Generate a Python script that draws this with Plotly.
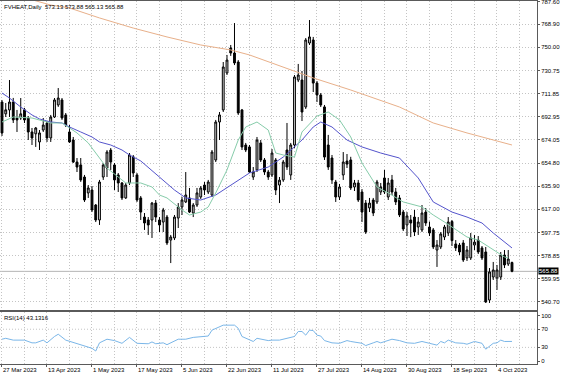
import plotly.graph_objects as go

# ---------------- data ----------------
open_ = [705.0, 695.3, 698.5, 705.0, 691.9, 691.9, 698.6, 691.9, 680.4, 678.9,
         672.2, 682.0, 687.8, 675.5, 692.7, 702.6, 706.7, 694.4, 680.4, 673.8,
         655.7, 653.3, 643.4, 630.3, 632.7, 620.4, 608.1, 643.4, 650.8, 665.5,
         653.3, 645.1, 638.5, 626.2, 638.5, 660.0, 645.1, 626.2, 610.5, 608.1,
         608.1, 622.0, 608.1, 606.4, 610.5, 591.6, 593.3, 609.7, 618.8, 622.9,
         626.2, 613.8, 620.4, 627.0, 636.8, 631.1, 628.6, 657.4, 688.6, 698.5,
         728.9, 749.4, 745.3, 737.9, 698.5, 669.7, 668.1, 643.4, 649.2, 671.4,
         657.4, 647.5, 645.1, 657.4, 636.8, 641.0, 665.6, 645.1, 669.7, 723.1,
         723.1, 700.9, 753.5, 756.0, 720.6, 710.8, 701.0, 669.7, 659.0, 639.3,
         627.0, 645.1, 656.5, 657.4, 635.2, 638.5, 631.1, 622.0, 618.0, 624.5,
         622.9, 631.1, 642.6, 627.0, 641.0, 631.1, 626.2, 614.6, 604.0, 608.1,
         610.5, 602.3, 599.9, 614.6, 602.3, 599.9, 583.4, 585.9, 594.1, 597.4,
         606.8, 588.4, 587.5, 589.2, 576.9, 576.9, 587.5, 591.6, 585.1, 581.8,
         542.3, 561.2, 560.4, 561.2, 579.3, 571.9, 573.13]
high = [706.7, 704.2, 723.1, 708.4, 698.5, 708.3, 700.2, 693.5, 683.7, 684.5,
        682.0, 691.9, 689.4, 694.4, 708.3, 716.5, 708.3, 696.0, 686.1, 676.3,
        659.0, 659.0, 645.1, 636.8, 636.0, 621.2, 641.0, 654.9, 665.5, 667.2,
        654.9, 646.7, 639.3, 638.5, 663.1, 661.5, 646.7, 627.8, 613.8, 610.5,
        622.9, 624.5, 610.5, 618.0, 612.2, 595.8, 612.2, 622.0, 627.0, 647.5,
        634.4, 622.0, 634.4, 636.0, 639.3, 641.0, 665.6, 690.3, 696.8, 737.9,
        743.7, 751.9, 769.9, 739.5, 699.3, 671.4, 669.7, 651.6, 676.3, 673.8,
        659.0, 649.2, 666.4, 659.0, 643.4, 657.4, 687.8, 671.4, 727.2, 736.3,
        730.5, 757.6, 772.4, 758.5, 722.3, 712.4, 702.6, 678.0, 661.5, 641.0,
        637.7, 663.9, 662.3, 660.0, 641.0, 641.0, 633.5, 624.5, 626.2, 626.2,
        641.0, 638.5, 649.2, 642.6, 645.1, 634.4, 628.6, 616.3, 614.6, 612.2,
        616.3, 610.5, 620.4, 617.9, 606.8, 601.5, 591.6, 598.2, 604.0, 610.5,
        608.1, 591.6, 589.2, 591.6, 586.7, 597.4, 595.8, 594.9, 586.7, 585.9,
        568.6, 573.6, 571.1, 581.8, 583.4, 583.4, 573.88]
low = [677.1, 692.7, 692.7, 687.8, 680.4, 690.3, 687.8, 673.8, 669.7, 668.1,
       665.6, 680.4, 672.2, 672.2, 691.9, 701.0, 690.3, 684.5, 671.4, 654.9,
       647.5, 639.4, 622.9, 626.2, 614.6, 606.4, 604.0, 641.0, 643.4, 649.2,
       632.7, 631.1, 624.5, 625.4, 636.8, 643.4, 622.9, 608.1, 599.9, 595.8,
       593.3, 606.4, 598.2, 598.2, 587.5, 572.7, 591.6, 601.5, 612.2, 622.0,
       613.8, 610.5, 618.8, 625.4, 628.6, 629.4, 627.0, 655.7, 673.8, 696.8,
       727.2, 742.9, 735.4, 694.4, 665.6, 663.9, 646.7, 641.0, 647.5, 655.7,
       645.1, 641.0, 643.4, 628.6, 622.0, 639.4, 649.2, 641.0, 667.2, 721.4,
       689.4, 699.3, 751.9, 713.2, 705.0, 700.9, 657.4, 649.2, 637.7, 622.9,
       624.5, 641.0, 650.8, 632.7, 631.9, 622.9, 606.4, 596.6, 614.6, 611.3,
       621.2, 628.6, 629.4, 624.5, 628.6, 620.4, 610.5, 599.0, 594.9, 594.0,
       594.9, 595.8, 598.2, 603.2, 594.9, 584.2, 569.5, 584.2, 591.6, 594.9,
       586.7, 582.6, 579.3, 573.6, 574.4, 575.2, 583.4, 580.1, 575.2, 539.9,
       539.9, 558.8, 550.6, 558.8, 568.6, 570.3, 565.13]
close = [679.6, 698.6, 705.0, 690.3, 690.3, 695.3, 690.3, 680.4, 675.5, 683.7,
         679.6, 686.1, 675.5, 692.7, 706.7, 708.3, 691.9, 686.1, 672.2, 655.7,
         651.6, 641.0, 624.5, 634.4, 616.3, 608.1, 639.3, 653.3, 663.9, 655.7,
         641.0, 638.5, 626.2, 636.8, 661.5, 646.7, 624.5, 614.6, 605.6, 604.0,
         622.0, 610.5, 604.0, 616.3, 589.2, 594.1, 610.5, 618.8, 624.5, 628.6,
         614.6, 620.4, 630.3, 634.4, 632.7, 639.3, 663.9, 688.6, 694.4, 733.8,
         739.5, 745.3, 737.1, 696.0, 668.1, 665.6, 647.5, 647.5, 673.8, 657.4,
         647.5, 643.4, 663.1, 632.7, 640.8, 655.7, 651.6, 669.7, 725.6, 727.2,
         696.8, 756.0, 758.5, 720.6, 710.8, 702.6, 659.8, 651.6, 641.0, 627.0,
         635.2, 655.7, 654.0, 634.4, 638.5, 624.5, 614.6, 598.2, 622.0, 613.8,
         639.3, 635.2, 631.1, 638.5, 631.1, 622.9, 612.2, 600.7, 611.4, 605.6,
         598.2, 606.4, 613.8, 605.6, 597.4, 585.9, 587.5, 596.6, 602.3, 606.4,
         591.2, 585.1, 581.8, 575.2, 583.4, 593.3, 589.9, 581.8, 576.9, 540.7,
         565.4, 567.0, 567.0, 579.3, 571.1, 576.0, 565.88]
bars = list(range(len(close)))

date_labels = ["27 Mar 2023", "13 Apr 2023", "1 May 2023", "17 May 2023",
               "5 Jun 2023", "22 Jun 2023", "11 Jul 2023", "27 Jul 2023",
               "14 Aug 2023", "30 Aug 2023", "18 Sep 2023", "4 Oct 2023"]
date_label_bars = [0, 12, 24, 36, 48, 60, 72, 84, 96, 108, 120, 132]

price_ticks = [787.60, 768.90, 750.00, 730.75, 711.85, 692.95, 674.05,
               654.80, 635.90, 617.00, 597.75, 578.85, 559.95, 540.70]

# moving averages
ma_fast_bars = [0, 3, 8, 10, 13, 16, 20, 23, 25, 28, 31, 33, 37, 40, 42, 44, 48,
                50, 53, 55, 57, 60, 63, 65, 68, 71, 73, 75, 78, 80, 84, 87, 90,
                93, 96, 100, 103, 107, 112, 115, 118, 120, 124, 127, 131, 134, 135]
ma_fast_vals = [688.6, 692.7, 691.9, 690.3, 687.8, 687.8, 679.6, 671.4, 663.1,
                650.8, 643.4, 638.5, 638.5, 635.2, 628.6, 626.2, 616.3, 612.2,
                614.6, 618.8, 630.3, 649.2, 673.8, 684.5, 688.6, 682.0, 663.1,
                661.5, 659.8, 680.4, 693.5, 696.8, 690.3, 676.3, 654.9, 635.2,
                630.3, 622.9, 618.8, 612.2, 606.4, 602.3, 594.1, 591.6, 583.4,
                577.7, 576.9]

ma_slow_bars = [0, 2, 5, 8, 10, 13, 16, 18, 21, 24, 26, 29, 32, 34, 37, 42, 46,
                49, 53, 57, 62, 66, 71, 75, 80, 83, 85, 88, 92, 96, 101, 106,
                111, 115, 120, 124, 128, 131, 136]
ma_slow_vals = [712.4, 708.3, 700.9, 694.4, 691.1, 688.6, 687.8, 684.5, 680.4,
                676.3, 672.2, 669.7, 665.6, 661.5, 656.6, 643.4, 632.7, 626.2,
                624.5, 628.6, 638.5, 646.7, 651.6, 659.8, 673.8, 684.5, 688.6,
                684.5, 673.8, 668.1, 663.1, 659.0, 642.6, 622.9, 614.6, 610.5,
                605.6, 597.4, 585.1]

ma_long_bars = [7, 13, 18, 26, 35, 44, 53, 61, 66, 75, 83, 93, 102, 106, 115, 124, 136]
ma_long_vals = [789.9, 784.7, 782.3, 774.1, 765.8, 758.5, 751.9, 747.8, 743.7,
                733.8, 724.8, 714.9, 705.0, 700.9, 687.8, 679.6, 669.7]

rsi_bars = [0, 1, 3, 6, 8, 9, 11, 12, 14, 15, 17, 20, 23, 24, 25, 26, 28, 30,
            32, 34, 36, 39, 40, 41, 43, 44, 47, 49, 51, 55, 56, 59, 62, 63, 64,
            67, 68, 71, 72, 74, 76, 78, 79, 80, 81, 82, 83, 84, 85, 86, 88, 90,
            92, 93, 96, 97, 99, 100, 101, 103, 104, 106, 108, 110, 112, 114,
            116, 117, 118, 119, 121, 123, 124, 126, 128, 129, 131, 132, 133,
            134, 136]
rsi_vals = [48, 50, 46, 46, 40, 40, 46, 40, 54, 59, 46, 39, 32, 28, 22, 40, 48,
            45, 39, 52, 39, 38, 42, 38, 40, 36, 48, 48, 52, 55, 68, 79, 79, 72,
            54, 43, 50, 45, 46, 46, 50, 54, 65, 65, 57, 68, 67, 57, 55, 45, 40,
            39, 45, 43, 39, 34, 40, 43, 40, 46, 48, 45, 40, 39, 43, 39, 35, 43,
            40, 46, 40, 39, 37, 43, 39, 26, 39, 40, 46, 43, 43.1316]
rsi_ticks = [0, 30, 70, 100]
rsi_levels = [30, 70]

symbol = "FVHEAT,Daily"

# ---------------- styling ----------------
GRID = "#c4c4c4"
GDASH = "1px,2px"
AXIS = "#5a5a5a"
FONT = "Liberation Sans"
FS = 6

fig = go.Figure()
fig.add_trace(go.Candlestick(
    x=bars, open=open_, high=high, low=low, close=close,
    increasing=dict(line=dict(color="#000000", width=1), fillcolor="#d2d2d2"),
    decreasing=dict(line=dict(color="#000000", width=1), fillcolor="#000000"),
    whiskerwidth=0, hoverinfo="skip", showlegend=False, xaxis="x", yaxis="y"))
fig.add_trace(go.Scatter(x=ma_long_bars, y=ma_long_vals, mode="lines",
                         line=dict(color="#e8b08a", width=1), xaxis="x", yaxis="y"))
fig.add_trace(go.Scatter(x=ma_slow_bars, y=ma_slow_vals, mode="lines",
                         line=dict(color="#5454cc", width=1), xaxis="x", yaxis="y"))
fig.add_trace(go.Scatter(x=ma_fast_bars, y=ma_fast_vals, mode="lines",
                         line=dict(color="#86ccaa", width=1), xaxis="x", yaxis="y"))
fig.add_trace(go.Scatter(x=rsi_bars, y=rsi_vals, mode="lines",
                         line=dict(color="#7ab6e8", width=1), xaxis="x2", yaxis="y2"))

xr = [-0.53, 142.67]
common_x = dict(range=xr, showgrid=True, gridcolor=GRID, griddash=GDASH, gridwidth=1,
                minor=dict(tickmode="linear", tick0=0, dtick=6, showgrid=True,
                           gridcolor=GRID, griddash=GDASH, gridwidth=1),
                showline=True, linecolor=AXIS, linewidth=1, mirror=True,
                zeroline=False, fixedrange=True, automargin=False)

fig.update_layout(
    width=564, height=376,
    margin=dict(l=0, r=27, t=1, b=12, autoexpand=False),
    paper_bgcolor="white", plot_bgcolor="white",
    showlegend=False,
    font=dict(family=FONT, size=FS, color="#000000"),
    xaxis=dict(domain=[0, 1], anchor="y", tickvals=date_label_bars,
               showticklabels=False, ticks="", rangeslider=dict(visible=False),
               **common_x),
    xaxis2=dict(domain=[0, 1], anchor="y2", tickvals=date_label_bars,
                ticktext=date_labels, ticks="outside", ticklen=2, tickcolor=AXIS,
                ticklabelposition="outside right", ticklabeloverflow="allow",
                tickfont=dict(family=FONT, size=FS), **common_x),
    yaxis=dict(domain=[0.1488, 1], range=[534.13, 788.03], side="right",
               tickvals=price_ticks, ticktext=[f"{v:.2f}" for v in price_ticks],
               showgrid=True, gridcolor=GRID, griddash=GDASH,
               ticks="outside", ticklen=2, tickcolor=AXIS,
               ticklabeloverflow="allow",
               tickfont=dict(family=FONT, size=FS),
               showline=True, linecolor=AXIS, linewidth=1, mirror=True,
               zeroline=False, fixedrange=True, automargin=False),
    yaxis2=dict(domain=[0, 0.1433], range=[-6.6, 108], side="right",
                tickvals=rsi_ticks, ticktext=[str(v) for v in rsi_ticks],
                showgrid=False, ticks="outside", ticklen=2, tickcolor=AXIS,
                ticklabeloverflow="allow",
                tickfont=dict(family=FONT, size=FS),
                showline=True, linecolor=AXIS, linewidth=1, mirror=True,
                zeroline=False, fixedrange=True, automargin=False),
)

for lv in rsi_levels:
    fig.add_shape(type="line", xref="x2 domain", yref="y2", x0=0, x1=1, y0=lv, y1=lv,
                  line=dict(color=GRID, width=1, dash=GDASH), layer="below")

last = close[-1]
fig.add_shape(type="line", xref="x domain", yref="y", x0=0, x1=1, y0=last, y1=last,
              line=dict(color="#b4b4b4", width=1), layer="below")
fig.add_annotation(xref="paper", yref="y", x=1, y=last, xanchor="left", yanchor="middle",
                   text=f"{last:.2f}", showarrow=False, bgcolor="#000000",
                   font=dict(color="#ffffff", size=FS, family=FONT), xshift=1,
                   borderpad=0)

fig.add_annotation(xref="paper", yref="paper", x=0, y=1, xanchor="left", yanchor="top",
                   text=f"{symbol}  {open_[-1]:.2f} {high[-1]:.2f} {low[-1]:.2f} {close[-1]:.2f}",
                   showarrow=False, xshift=2, yshift=-1,
                   font=dict(size=FS, family=FONT, color="#000000"))
fig.add_annotation(xref="paper", yref="y2 domain", x=0, y=1, xanchor="left", yanchor="top",
                   text=f"RSI(14) {rsi_vals[-1]:.4f}", showarrow=False, xshift=2, yshift=-1,
                   font=dict(size=FS, family=FONT, color="#000000"))

fig.write_html("out.html",
               config={"displayModeBar": False, "staticPlot": True},
               post_script="document.body.style.margin='0';document.body.style.padding='0';")
